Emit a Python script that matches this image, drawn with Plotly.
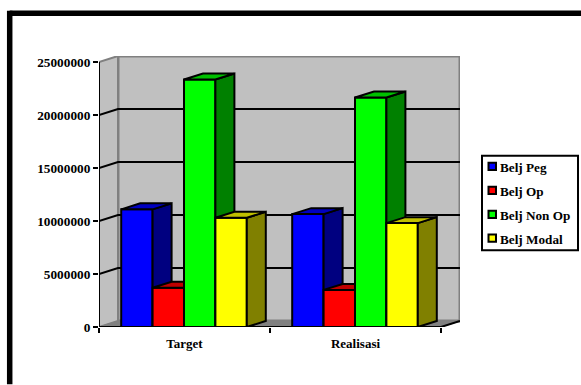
import plotly.graph_objects as go

# Budget figures per group, in rupiah
CATEGORIES = ["Target", "Realisasi"]
SERIES_NAMES = ["Belj Peg", "Belj Op", "Belj Non Op", "Belj Modal"]
BELJ_PEG = [11100000, 10650000]
BELJ_OP = [3700000, 3500000]
BELJ_NON_OP = [23350000, 21650000]
BELJ_MODAL = [10300000, 9800000]
Y_TICKS = [0, 5000000, 10000000, 15000000, 20000000, 25000000]

FRONT = ["#0000FF", "#FF0000", "#00FF00", "#FFFF00"]
SIDE = ["#000080", "#800000", "#008000", "#808000"]
TOP = ["#0000C0", "#C00000", "#00C000", "#C0C000"]

W, H = 581, 385
LEFT, RIGHT, TOP_PX, BOTTOM = 99, 460, 55.5, 327.5

# Oblique projection offsets for the depth of the chart, in axis units
DX = 19 / 171
DY = 563000
BAR_W = 31.4 / 171
GROUP_PAD = 22.2 / 171
Y_MAX = 25000000


def poly(xs, ys, fill, line="black", width=2):
    return go.Scatter(
        x=xs + xs[:1], y=ys + ys[:1], mode="lines", fill="toself", fillcolor=fill,
        line=dict(color=line, width=width), hoverinfo="skip", showlegend=False,
        cliponaxis=False,
    )


def path(xs, ys, color="black", width=2):
    return go.Scatter(
        x=xs, y=ys, mode="lines", line=dict(color=color, width=width),
        hoverinfo="skip", showlegend=False, cliponaxis=False,
    )


fig = go.Figure()

# Back wall, side wall and floor
fig.add_trace(poly([DX, 2 + DX, 2 + DX, DX], [DY, DY, Y_MAX + DY, Y_MAX + DY], "#C0C0C0", "#808080", 3))
fig.add_trace(poly([0, DX, DX, 0], [0, DY, Y_MAX + DY, Y_MAX], "#C0C0C0", "#808080", 2))
fig.add_trace(poly([0, 2, 2 + DX, DX], [0, 0, DY, DY], "#808080", "#808080", 1))

# Gridlines wrap from the side wall across the back wall
for v in Y_TICKS[1:-1]:
    fig.add_trace(path([0, DX, 2 + DX], [v, v + DY, v + DY]))
fig.add_trace(path([2, 2 + DX], [0, DY]))

# Bars are painted left to right so each one overlaps its neighbour's side face
all_values = [BELJ_PEG, BELJ_OP, BELJ_NON_OP, BELJ_MODAL]
for g in range(len(CATEGORIES)):
    for s, values in enumerate(all_values):
        v = values[g]
        x0 = g + GROUP_PAD + s * BAR_W
        x1 = x0 + BAR_W
        fig.add_trace(poly([x0, x1, x1, x0], [0, 0, v, v], FRONT[s]))
        fig.add_trace(poly([x1, x1 + DX, x1 + DX, x1], [0, DY, v + DY, v], SIDE[s]))
        fig.add_trace(poly([x0, x1, x1 + DX, x0 + DX], [v, v, v + DY, v + DY], TOP[s]))

# Axis lines sit above everything else
fig.add_trace(path([0, 0], [0, Y_MAX]))
fig.add_trace(path([0, 2], [0, 0]))


def px(x):
    return (x - LEFT) / (RIGHT - LEFT)


def py(y):
    return (BOTTOM - y) / (BOTTOM - TOP_PX)


shapes = [
    # Heavy frame along the left and top edges of the page
    dict(type="line", xref="paper", yref="paper", x0=px(9.7), x1=px(W), y0=py(12.5), y1=py(12.5),
         line=dict(color="black", width=5.5)),
    dict(type="line", xref="paper", yref="paper", x0=px(9.7), x1=px(9.7), y0=py(10), y1=py(H),
         line=dict(color="black", width=5.5)),
    # Legend box
    dict(type="rect", xref="paper", yref="paper", x0=px(482), x1=px(578), y0=py(155.5), y1=py(250.5),
         line=dict(color="black", width=2), fillcolor="white"),
]
annotations = []
for i, name in enumerate(SERIES_NAMES):
    row = 167.5 + 24 * i
    shapes.append(dict(type="rect", xref="paper", yref="paper", x0=px(488.5), x1=px(496),
                       y0=py(row - 4.8), y1=py(row + 2.5),
                       line=dict(color="black", width=2), fillcolor=FRONT[i]))
    annotations.append(dict(text=name, xref="paper", yref="paper", x=px(497.5), y=py(row),
                            xanchor="left", yanchor="middle", showarrow=False,
                            font=dict(family="Liberation Serif", size=13.2, color="black")))

fig.update_layout(
    width=W, height=H, autosize=False, showlegend=False,
    margin=dict(l=LEFT, r=W - RIGHT, t=TOP_PX, b=H - BOTTOM, pad=0),
    paper_bgcolor="white", plot_bgcolor="white",
    font=dict(family="Liberation Serif", size=13, color="black", weight="bold"),
    shapes=shapes, annotations=annotations,
    xaxis=dict(
        range=[0, 2 + DX], showgrid=False, zeroline=False, showline=False,
        tickmode="array", tickvals=[0.5, 1.5], ticktext=CATEGORIES,
        ticks="outside", ticklen=4.5, tickcolor="rgba(0,0,0,0)",
        minor=dict(tickmode="array", tickvals=[0, 1, 2], ticks="outside", ticklen=5,
                   tickwidth=2, tickcolor="black", showgrid=False),
        tickfont=dict(family="Liberation Serif", size=13, weight="bold"),
    ),
    yaxis=dict(
        range=[0, Y_MAX + DY], showgrid=False, zeroline=False, showline=False,
        tickmode="array", tickvals=Y_TICKS, ticktext=[str(v) for v in Y_TICKS],
        ticks="outside", ticklen=5, tickwidth=2, tickcolor="black",
        tickfont=dict(family="Liberation Serif", size=13.3, weight="bold"),
    ),
)

fig.write_html("out.html", config=dict(displayModeBar=False))
